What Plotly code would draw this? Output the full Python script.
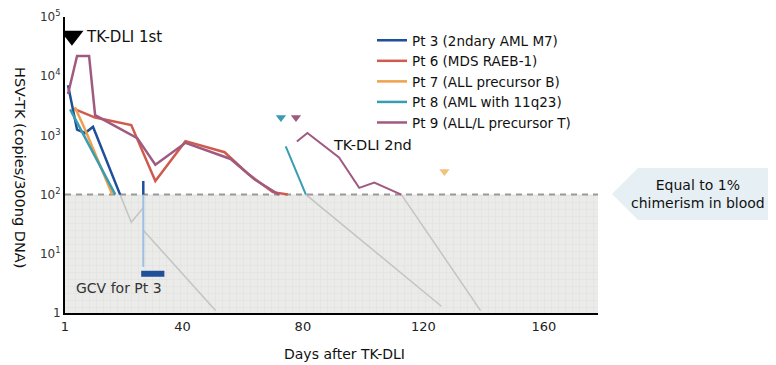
import plotly.graph_objects as go

# ---------------- data (days after TK-DLI, HSV-TK copies/300ng DNA) ----------------
pt3_days = [2, 5, 7.7, 10.3, 19.3]
pt3_vals = [7000, 1250, 1100, 1400, 100]
pt3b_days = [27, 27]
pt3b_vals = [170, 100]
pt3c_days = [27, 27]
pt3c_vals = [100, 6]
gcv_days = [26.3, 34]
gcv_vals = [4.6, 4.6]

pt6_days = [4, 11, 23, 31, 41, 54, 62, 70, 75]
pt6_vals = [2800, 2000, 1500, 170, 800, 520, 220, 110, 100]

pt7_days = [4.3, 7.7, 16.7]
pt7_vals = [3000, 1250, 100]

pt8_days = [2.7, 17.7]
pt8_vals = [2750, 100]
pt8b_days = [74.3, 81]
pt8b_vals = [650, 100]

pt9_days = [2, 5, 9, 11, 25, 31, 41, 56, 64, 72]
pt9_vals = [5000, 22000, 22000, 2200, 900, 320, 750, 400, 180, 100]
pt9b_days = [78, 81.5, 92, 98.7, 103.7, 109, 112.7]
pt9b_vals = [790, 1100, 425, 130, 160, 120, 100]

# faint continuations below the 1% chimerism threshold
faint_a_days = [19.3, 23, 27]
faint_a_vals = [100, 34, 60]
faint_b_days = [27, 51]
faint_b_vals = [25, 1.1]
faint_c_days = [81, 126]
faint_c_vals = [100, 1.3]
faint_d_days = [112.7, 139]
faint_d_vals = [100, 1.1]

threshold = 100
x_range = [1, 178]

dli1_day, dli1_val = [3.3], [48000]
dli2_days = [72.7, 77.7, 127]
dli2_vals = [2000, 2000, 245]

legend_names = ["Pt 3 (2ndary AML M7)", "Pt 6 (MDS RAEB-1)", "Pt 7 (ALL precursor B)",
                "Pt 8 (AML with 11q23)", "Pt 9 (ALL/L precursor T)"]
colors = ["#1f4f99", "#cf5a4e", "#f0a04b", "#3a9cb0", "#a05a80"]

x_tickvals = [1, 40, 80, 120, 160]
y_tickvals = [1, 10, 100, 1000, 10000, 100000]
y_ticktext = ["1", "10<sup>1</sup>", "10<sup>2</sup>", "10<sup>3</sup>", "10<sup>4</sup>", "10<sup>5</sup>"]

# ---------------- layout geometry helpers ----------------
# page body has an 8px default margin, so the figure is drawn 8px smaller
O = 8
W, H = 776 - O, 365 - O
L, R, T, B = 65, 598, 17, 313          # plot area in reference-page pixels
def xp(px):
    return (px - L) / (R - L)
def yp(py):
    return (B - py) / (B - T)

FONT = "DejaVu Sans, Arial, sans-serif"
fig = go.Figure()

# shaded sub-threshold region
fig.add_trace(go.Scatter(
    x=[x_range[0], x_range[1], x_range[1], x_range[0], x_range[0]],
    y=[1, 1, threshold, threshold, 1],
    mode="lines", fill="toself", line=dict(width=0),
    fillcolor="#ebebe9",
    fillpattern=dict(shape="+", fgcolor="#d4d4d2", bgcolor="#ebebe9", size=7, solidity=0.14),
    showlegend=False, hoverinfo="skip"))

for fx, fy in [(faint_a_days, faint_a_vals), (faint_b_days, faint_b_vals),
               (faint_c_days, faint_c_vals), (faint_d_days, faint_d_vals)]:
    fig.add_trace(go.Scatter(x=fx, y=fy, mode="lines", line=dict(color="#c4c4c4", width=1.5),
                             showlegend=False, hoverinfo="skip"))

# threshold dashed line
fig.add_trace(go.Scatter(x=x_range, y=[threshold, threshold], mode="lines",
                         line=dict(color="#9a9a9a", width=2, dash="6px,5px"),
                         showlegend=False, hoverinfo="skip"))

# light continuation of Pt 3 spike
fig.add_trace(go.Scatter(x=pt3c_days, y=pt3c_vals, mode="lines",
                         line=dict(color="#9fbfe0", width=2), showlegend=False))

series = [
    (pt3_days, pt3_vals), (pt6_days, pt6_vals), (pt7_days, pt7_vals),
    (pt8_days, pt8_vals), (pt9_days, pt9_vals)]
for i, (dx, dy) in enumerate(series):
    fig.add_trace(go.Scatter(x=dx, y=dy, mode="lines", name=legend_names[i],
                             line=dict(color=colors[i], width=2.5), legendrank=i + 1))

fig.add_trace(go.Scatter(x=pt3b_days, y=pt3b_vals, mode="lines", line=dict(color=colors[0], width=2.5),
                         showlegend=False))
fig.add_trace(go.Scatter(x=pt8b_days, y=pt8b_vals, mode="lines", line=dict(color=colors[3], width=2),
                         showlegend=False))
fig.add_trace(go.Scatter(x=pt9b_days, y=pt9b_vals, mode="lines", line=dict(color=colors[4], width=2),
                         showlegend=False))
fig.add_trace(go.Scatter(x=gcv_days, y=gcv_vals, mode="lines", line=dict(color=colors[0], width=6),
                         showlegend=False))

# DLI markers
fig.add_trace(go.Scatter(x=dli1_day, y=dli1_val, mode="markers",
                         marker=dict(symbol="triangle-down", size=20, color="black"),
                         showlegend=False))
fig.add_trace(go.Scatter(x=dli2_days, y=dli2_vals, mode="markers",
                         marker=dict(symbol="triangle-down", size=9,
                                     color=[colors[3], colors[4], "#f3c27a"]),
                         showlegend=False))

annotations = [
    dict(x=xp(84), y=yp(37), text="TK-DLI 1st", xanchor="left", yanchor="middle",
         font=dict(size=15, color="#111")),
    dict(x=xp(331), y=yp(145), text="TK-DLI 2nd", xanchor="left", yanchor="middle",
         font=dict(size=14.5, color="#111")),
    dict(x=xp(74), y=yp(288), text="GCV for Pt 3", xanchor="left", yanchor="middle",
         font=dict(size=14, color="#333")),
    dict(x=xp(698), y=yp(194), text="Equal to 1%<br>chimerism in blood", xanchor="center",
         yanchor="middle", font=dict(size=14, color="#111")),
    dict(x=xp(20), y=yp(167), text="HSV-TK (copies/300ng DNA)", textangle=90,
         xanchor="center", yanchor="middle", font=dict(size=14.5, color="#111")),
    dict(x=xp(344), y=yp(354), text="Days after TK-DLI", xanchor="center", yanchor="middle",
         font=dict(size=14, color="#111")),
]
for a in annotations:
    a.update(xref="paper", yref="paper", showarrow=False)

arrow_pts = [(612, 194), (638, 168), (776, 168), (776, 220), (638, 220)]
path = "M " + " L ".join(f"{xp(x):.4f},{yp(y):.4f}" for x, y in arrow_pts) + " Z"

fig.update_layout(
    width=W, height=H,
    margin=dict(l=L - O, r=W - (R - O), t=T - O, b=H - (B - O), autoexpand=False),
    paper_bgcolor="white", plot_bgcolor="white",
    font=dict(family=FONT, size=12, color="#222"),
    showlegend=True,
    legend=dict(x=xp(372), y=yp(25), xanchor="left", yanchor="top", bgcolor="rgba(0,0,0,0)",
                font=dict(size=13.5, color="#111"), tracegroupgap=0, itemwidth=30,
                traceorder="normal"),
    annotations=annotations,
    shapes=[dict(type="path", path=path, xref="paper", yref="paper",
                 fillcolor="#e6f0f4", line=dict(width=0), layer="below")],
    xaxis=dict(range=x_range, tickvals=x_tickvals, showgrid=False, zeroline=False,
               showline=True, linecolor="black", linewidth=2, ticks="",
               tickfont=dict(size=13, color="#222")),
    yaxis=dict(type="log", range=[0, 5], tickvals=y_tickvals, ticktext=y_ticktext,
               showgrid=False, zeroline=False, showline=True, linecolor="black", linewidth=2,
               ticks="", tickfont=dict(size=12, color="#333")),
)

fig.write_html("out.html")
